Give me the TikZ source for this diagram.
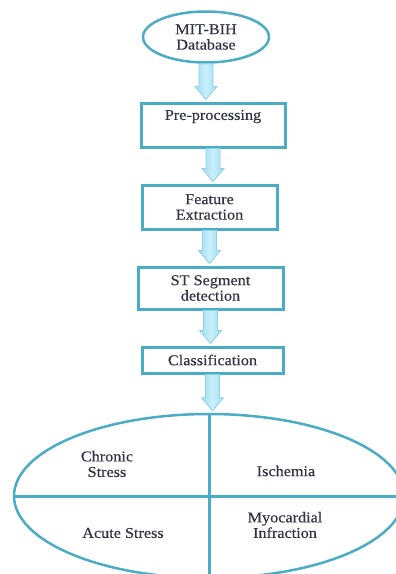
\documentclass[tikz,border=0pt]{standalone}
\usepackage{fontspec}
\setmainfont[FakeStretch=1.08,FakeBold=0.35]{Liberation Serif}
\usepackage{tikz}
\usetikzlibrary{shapes.geometric,calc}
\definecolor{tealline}{RGB}{75,172,198}
\definecolor{arrowfill}{RGB}{200,240,252}
\definecolor{arrowedge}{RGB}{140,210,232}
\definecolor{textgray}{RGB}{50,50,70}

% block arrow from the bottom of one node to the top of the next
\newcommand{\flowarrow}[2]{%
  \path[flow] let \p1=(#1.south), \p2=(#2.north) in
    (\x1-7pt,\y1) -- (\x1+7pt,\y1) -- (\x1+7pt,\y2+15pt) -- (\x1+11pt,\y2+15pt)
    -- (\x1,\y2+2pt) -- (\x1-11pt,\y2+15pt) -- (\x1-7pt,\y2+15pt) -- cycle;}

\begin{document}
\begin{tikzpicture}[x=1pt, y=1pt, node distance=82pt, text=textgray, font=\fontsize{15}{15.5}\selectfont]
    \tikzstyle{source} = [ellipse, draw=tealline, line width=2.5pt, align=center, minimum width=126pt, minimum height=51pt, inner sep=0pt]
    \tikzstyle{stage} = [rectangle, draw=tealline, line width=3pt, fill=white, align=center, inner sep=0pt]
    \tikzstyle{flow} = [draw=arrowedge, line width=0.8pt, left color=arrowedge!80, right color=arrowedge!80, middle color=arrowfill]
    \tikzstyle{classes} = [ellipse, draw=tealline, line width=2.5pt, minimum width=390pt, minimum height=164pt]
    \tikzstyle{divider} = [draw=tealline, line width=3pt]
    \tikzstyle{outcome} = [align=center, inner sep=0pt]

    \path[use as bounding box, clip] (0,0) rectangle (396,-574);

    % Pipeline
    \node [source] (db) at (206,-37) {MIT-BIH\\Database};
    \node [stage, minimum width=144pt, minimum height=44pt, below of=db, node distance=88pt, xshift=7pt] (pre) {Pre-processing\\\strut};
    \node [stage, minimum width=135pt, minimum height=44pt, below of=pre, xshift=-3.5pt] (feat) {Feature\\Extraction};
    \node [stage, minimum width=145pt, minimum height=42pt, below of=feat, node distance=81pt, xshift=1pt] (st) {ST Segment\\detection};
    \node [stage, minimum width=141pt, minimum height=26pt, below of=st, node distance=72pt, xshift=2pt] (cls) {Classification};
    \node [classes, below of=cls, node distance=136pt, xshift=-3.5pt] (result) {};

    % Quadrants
    \draw [divider] (result.north) -- (result.south);
    \draw [divider] (result.west) -- (result.east);
    \node [outcome, xshift=-102pt, yshift=32pt] (chronic) at (result.center) {Chronic\\Stress};
    \node [outcome, xshift=77pt, yshift=25pt] (ischemia) at (result.center) {Ischemia};
    \node [outcome, xshift=-86pt, yshift=-37pt] (acute) at (result.center) {Acute Stress};
    \node [outcome, xshift=76pt, yshift=-29pt] (mi) at (result.center) {Myocardial\\Infraction};

    % Arrows
    \flowarrow{db}{pre}
    \flowarrow{pre}{feat}
    \flowarrow{feat}{st}
    \flowarrow{st}{cls}
    \flowarrow{cls}{result}
\end{tikzpicture}
\end{document}
